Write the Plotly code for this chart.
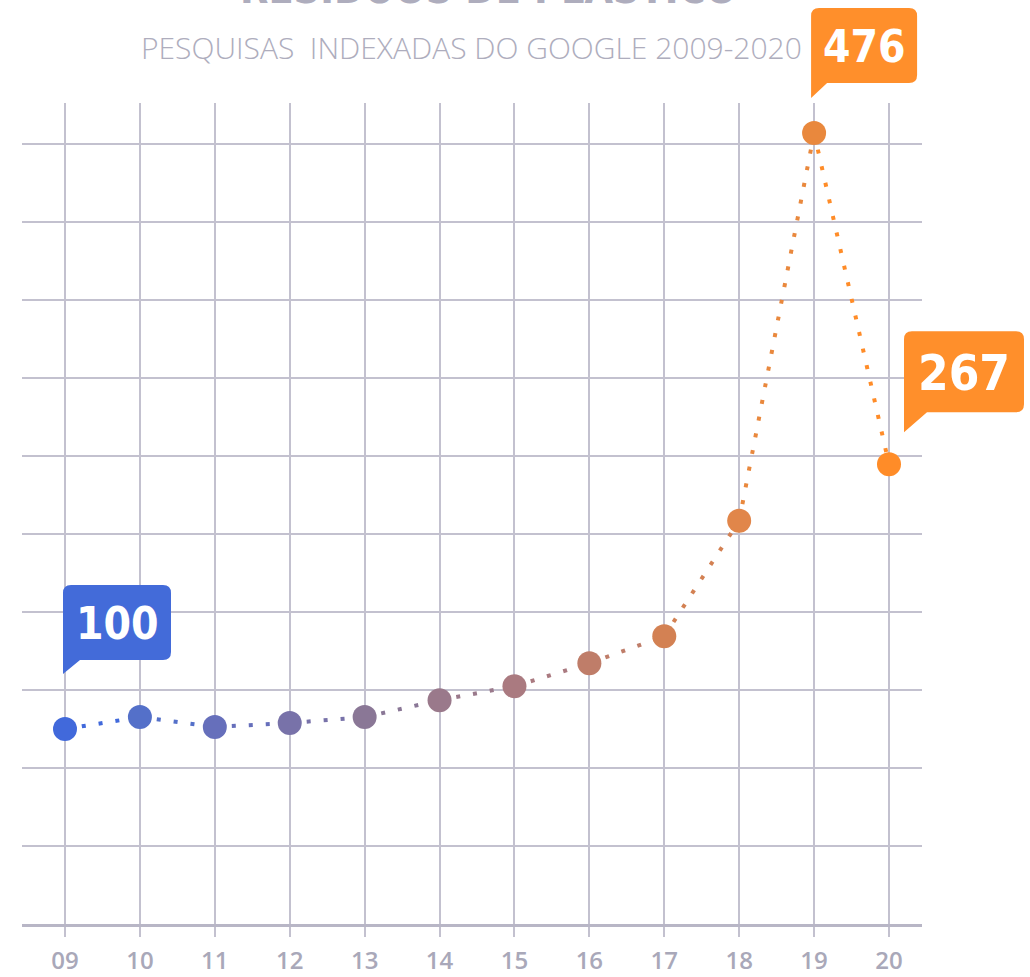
import plotly.graph_objects as go

# ---------------- data ----------------
years = [2009, 2010, 2011, 2012, 2013, 2014, 2015, 2016, 2017, 2018, 2019, 2020]
year_labels = ["09", "10", "11", "12", "13", "14", "15", "16", "17", "18", "19", "20"]
index_values = [100, 107.5, 101.3, 103.8, 107.5, 118.2, 127.0, 141.5, 158.5, 231.4, 476, 267]
point_colors = ["#4169db", "#5470c9", "#666fbb", "#7872a9", "#8a7796", "#9a798b",
                "#aa7a80", "#bf7d69", "#d38153", "#e1864a", "#e9883d", "#ff8c28"]
callout_years = [2009, 2019, 2020]
callout_texts = ["100", "476", "267"]
callout_colors = ["#436bd9", "#ff8f2b", "#ff8f2b"]

title_text = "RESÍDUOS DE PLÁSTICO"
subtitle_text = "PESQUISAS  INDEXADAS DO GOOGLE 2009-2020"

# ---------------- layout geometry ----------------
W, H = 1030, 977
PLOT_L, PLOT_R, PLOT_T, PLOT_B = 22, 922, 103, 924
PX_PER_UNIT = 1.585         # vertical pixels per index unit
BASE_PX = 729               # pixel row of the 2009 point (value 100)
GRID_STEP_PX = 78

y_min = 100 - (PLOT_B - BASE_PX) / PX_PER_UNIT
y_max = 100 + (BASE_PX - PLOT_T) / PX_PER_UNIT
x_px_per_year = (889 - 65) / 11
x_min = 2009 - (65 - PLOT_L) / x_px_per_year
x_max = 2020 + (PLOT_R - 889) / x_px_per_year

GRID = "#c3c1cf"
LABEL = "#a9a8b9"
COND = "DejaVu Sans Condensed, Roboto, sans-serif"

fig = go.Figure()

# dotted connecting segments, coloured along the gradient
for i in range(len(years) - 1):
    fig.add_trace(go.Scatter(
        x=[years[i], years[i + 1]], y=[index_values[i], index_values[i + 1]],
        mode="lines",
        line=dict(color=point_colors[i + 1] if i >= 9 else point_colors[i], width=4, dash="4px,13px"),
        hoverinfo="skip", showlegend=False,
    ))

fig.add_trace(go.Scatter(
    x=years, y=index_values, mode="markers",
    marker=dict(size=24, color=point_colors, line=dict(width=0)),
    hoverinfo="skip", showlegend=False,
))


def bubble_path(L, R, B, T, tip_y, diag_x, r=8):
    return (f"M {L},{tip_y} L {L},{T - r} Q {L},{T} {L + r},{T} "
            f"L {R - r},{T} Q {R},{T} {R},{T - r} L {R},{B + r} "
            f"Q {R},{B} {R - r},{B} L {diag_x},{B} Z")


def to_paper_x(v):
    return (v - x_min) / (x_max - x_min)


def to_paper_y(v):
    return (v - y_min) / (y_max - y_min)


# callout geometry (pixel offsets from the data point, y up)
callout_geom = [
    dict(L=-2, R=106, B=69, T=144, tip=55, diag=15, tx=52, ty=106, fs=44),
    dict(L=-3, R=103, B=50, T=125, tip=35, diag=13, tx=50, ty=87, fs=44),
    dict(L=15, R=135, B=52, T=133, tip=32, diag=38, tx=75, ty=91, fs=49),
]
for yr, txt, col, g in zip(callout_years, callout_texts, callout_colors, callout_geom):
    val = index_values[years.index(yr)]
    px, py = to_paper_x(yr), to_paper_y(val)
    fig.add_shape(
        type="path", xref="paper", yref="paper", xsizemode="pixel", ysizemode="pixel",
        xanchor=px, yanchor=py,
        path=bubble_path(g["L"], g["R"], g["B"], g["T"], g["tip"], g["diag"]),
        fillcolor=col, line=dict(width=0), layer="above",
    )
    fig.add_annotation(
        x=px, y=py, xref="paper", yref="paper", text=txt, showarrow=False,
        xshift=g["tx"], yshift=g["ty"], xanchor="center", yanchor="middle",
        font=dict(family=COND, size=g["fs"], color="white", weight="bold"),
    )

# title (cut off at the top edge) and subtitle
fig.add_annotation(
    x=(488 - PLOT_L) / (PLOT_R - PLOT_L), y=1, xref="paper", yref="paper",
    yanchor="bottom", xanchor="center", yshift=PLOT_T - 15, showarrow=False,
    text=title_text,
    font=dict(family=COND, size=41, color="#aeadbd", weight="bold"),
)
fig.add_annotation(
    x=(471 - PLOT_L) / (PLOT_R - PLOT_L), y=1, xref="paper", yref="paper",
    yanchor="middle", xanchor="center", yshift=PLOT_T - 47, showarrow=False,
    text=subtitle_text,
    font=dict(family="Open Sans", size=30, color="#aeadbd", weight=300),
)

fig.update_layout(
    width=W, height=H,
    margin=dict(l=PLOT_L, r=W - PLOT_R, t=PLOT_T, b=H - PLOT_B, pad=0, autoexpand=False),
    paper_bgcolor="white", plot_bgcolor="white",
    showlegend=False,
    xaxis=dict(
        range=[x_min, x_max], tickmode="array", tickvals=years, ticktext=year_labels,
        showgrid=True, gridcolor=GRID, gridwidth=2,
        ticks="outside", ticklen=10, tickwidth=2, tickcolor=GRID,
        showline=True, linecolor="#b8b6c6", linewidth=3, automargin=False,
        zeroline=False, fixedrange=True, ticklabelstandoff=3,
        tickfont=dict(family="Open Sans", size=24, color=LABEL, weight=600),
    ),
    yaxis=dict(
        range=[y_min, y_max], tickmode="linear", tick0=y_min,
        dtick=GRID_STEP_PX / PX_PER_UNIT, automargin=False,
        showgrid=True, gridcolor=GRID, gridwidth=2,
        showticklabels=False, ticks="", zeroline=False, showline=False, fixedrange=True,
    ),
)

fig.write_html("out.html", config={"displayModeBar": False},
               post_script="document.body.style.margin='0';")
